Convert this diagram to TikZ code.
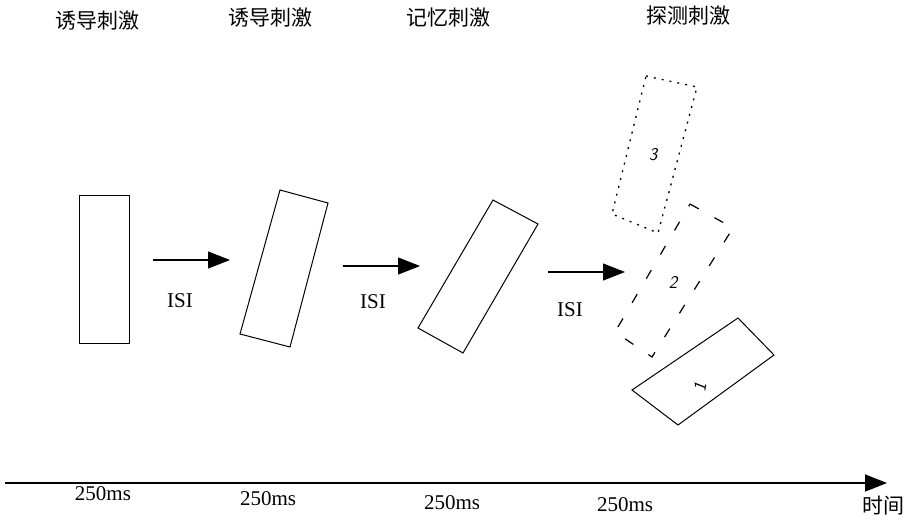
\documentclass[tikz,border=0pt]{standalone}
\usepackage{fontspec}
\setmainfont{Liberation Serif}
\newfontfamily\cjk{Noto Sans CJK SC}
\usetikzlibrary{arrows.meta}
\begin{document}
\begin{tikzpicture}[x=1pt,y=-1pt,
  box/.style={line width=1pt},
  arr/.style={line width=1.1pt,-{Triangle[length=22pt,width=17pt]}},
  head/.style={font=\cjk\fontsize{21}{21}\selectfont},
  lab/.style={font=\fontsize{21}{21}\selectfont},
  num/.style={font=\sffamily\itshape\fontsize{18}{18}\selectfont}]
\useasboundingbox (0,0) rectangle (904,520);
% headings
\node[head] (h1) at (97,21) {诱导刺激};
\node[head] (h2) at (270,18) {诱导刺激};
\node[head] (h3) at (448,18) {记忆刺激};
\node[head] (h4) at (688,16) {探测刺激};
% stimuli
\draw[box] (79,195) rectangle (129,343);
\draw[box] (280,190) -- (328,203) -- (290,347) -- (240,334) -- cycle;
\draw[box] (493,200) -- (538,224) -- (463,353) -- (418,328) -- cycle;
% probes
\draw[box,line width=1.3pt,dash pattern=on 2pt off 6pt] (646,76) -- (697,87) -- (658,233) -- (612,214) -- cycle;
\node[num] (n3) at (653,155) {3};
\draw[box,line width=1.2pt,dash pattern=on 10pt off 18pt] (690,204) -- (733,228) -- (652,357) -- (615,332) -- cycle;
\node[num] (n2) at (673,282) {2};
\draw[box] (738,318) -- (774,355) -- (678,425) -- (632,390) -- cycle;
\node[num,rotate=80] (n1) at (700,387) {1};
% arrows
\coordinate (a1s) at (153,260); \coordinate (a1e) at (230,260);
\coordinate (a2s) at (343,266); \coordinate (a2e) at (420,266);
\coordinate (a3s) at (548,272); \coordinate (a3e) at (625,272);
\draw[arr] (a1s) -- (a1e);
\draw[arr] (a2s) -- (a2e);
\draw[arr] (a3s) -- (a3e);
\node[lab] (i1) at (180,301) {ISI};
\node[lab] (i2) at (373,302) {ISI};
\node[lab] (i3) at (570,310) {ISI};
% time axis
\coordinate (ts) at (5,483); \coordinate (te) at (887,483);
\draw[arr,line width=1.6pt] (ts) -- (te);
\node[lab] (t1) at (103,494) {250ms};
\node[lab] (t2) at (268,499) {250ms};
\node[lab] (t3) at (452,503) {250ms};
\node[lab] (t4) at (625,505) {250ms};
\node[head] (tt) at (883,506) {时间};
\end{tikzpicture}
\end{document}
